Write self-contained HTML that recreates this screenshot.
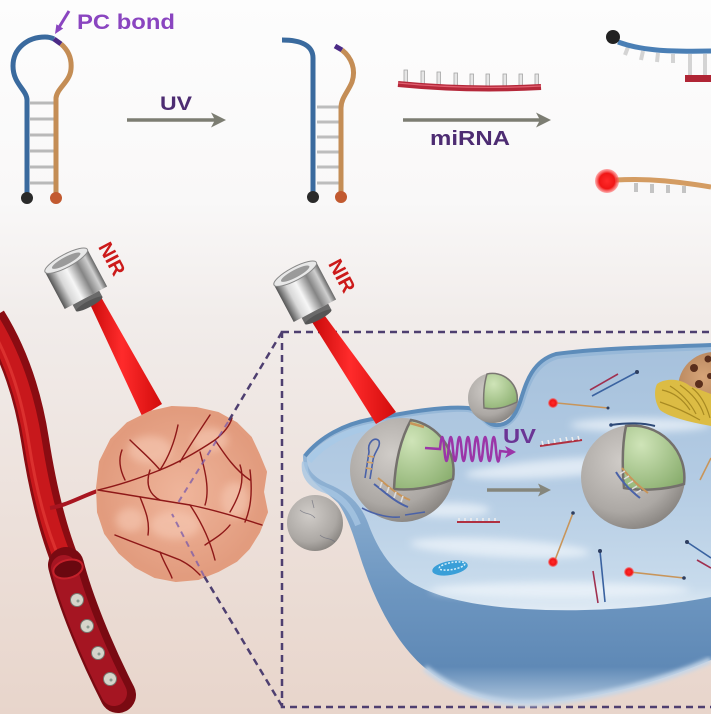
<!DOCTYPE html>
<html><head><meta charset="utf-8"><style>
html,body{margin:0;padding:0;background:#fff;}
svg{display:block;}
text{font-family:"Liberation Sans",Arial,sans-serif;font-weight:bold;}
</style></head><body>
<svg xmlns="http://www.w3.org/2000/svg" width="711" height="714" viewBox="0 0 711 714">
<defs>
<linearGradient id="bg" x1="0" y1="0" x2="0" y2="714" gradientUnits="userSpaceOnUse">
<stop offset="0" stop-color="#fdfdfd"/>
<stop offset="0.28" stop-color="#f9f8f8"/>
<stop offset="0.45" stop-color="#f1ecea"/>
<stop offset="1" stop-color="#e8d5cb"/>
</linearGradient>
<linearGradient id="metal" x1="0" y1="0" x2="1" y2="0">
<stop offset="0" stop-color="#555"/>
<stop offset="0.22" stop-color="#d8d8d8"/>
<stop offset="0.42" stop-color="#f6f6f6"/>
<stop offset="0.68" stop-color="#858585"/>
<stop offset="0.88" stop-color="#cfcfcf"/>
<stop offset="1" stop-color="#666"/>
</linearGradient>
<radialGradient id="sph" cx="0.4" cy="0.35" r="0.75">
<stop offset="0" stop-color="#d0ccc8"/>
<stop offset="0.65" stop-color="#aca8a4"/>
<stop offset="1" stop-color="#7c7874"/>
</radialGradient>
<radialGradient id="grn" cx="0.3" cy="0.3" r="0.9">
<stop offset="0" stop-color="#cfe4b8"/>
<stop offset="1" stop-color="#86ab6a"/>
</radialGradient>
<radialGradient id="tum" cx="0.5" cy="0.5" r="0.55">
<stop offset="0" stop-color="#efb59b"/>
<stop offset="1" stop-color="#e0987a"/>
</radialGradient>
<radialGradient id="rdot">
<stop offset="0" stop-color="#ff2a2a"/>
<stop offset="0.65" stop-color="#f01616"/>
<stop offset="1" stop-color="#ff5a5a" stop-opacity="0.5"/>
</radialGradient>
<radialGradient id="nuc" cx="0.35" cy="0.35" r="0.8">
<stop offset="0" stop-color="#d6a478"/>
<stop offset="1" stop-color="#9a6a44"/>
</radialGradient>
<linearGradient id="wall" x1="0" y1="450" x2="0" y2="705" gradientUnits="userSpaceOnUse">
<stop offset="0" stop-color="#97b8d8"/>
<stop offset="0.55" stop-color="#6d96c0"/>
<stop offset="0.85" stop-color="#5f89b6"/>
<stop offset="1" stop-color="#b4cae0"/>
</linearGradient>
<linearGradient id="top" x1="0" y1="345" x2="0" y2="612" gradientUnits="userSpaceOnUse">
<stop offset="0" stop-color="#a6c1dc"/>
<stop offset="0.5" stop-color="#b3cbe3"/>
<stop offset="0.9" stop-color="#c8dbec"/>
<stop offset="1" stop-color="#e2ecf5"/>
</linearGradient>
<linearGradient id="beam" x1="0" y1="0" x2="1" y2="0">
<stop offset="0" stop-color="#c80a0a"/>
<stop offset="0.45" stop-color="#ff2b2b"/>
<stop offset="1" stop-color="#d20c0c"/>
</linearGradient>
<filter id="b4" x="-20%" y="-50%" width="140%" height="200%"><feGaussianBlur stdDeviation="4"/></filter>
<filter id="b2"><feGaussianBlur stdDeviation="2"/></filter>
<filter id="b1"><feGaussianBlur stdDeviation="1"/></filter>
</defs>

<rect width="711" height="714" fill="url(#bg)"/>

<!-- ============ TOP: hairpin 1 ============ -->
<g stroke="#b9b9b9" stroke-width="3">
<line x1="30" y1="103" x2="54" y2="103"/><line x1="30" y1="119" x2="54" y2="119"/>
<line x1="30" y1="135" x2="54" y2="135"/><line x1="30" y1="151" x2="54" y2="151"/>
<line x1="30" y1="167" x2="54" y2="167"/><line x1="30" y1="183" x2="54" y2="183"/>
</g>
<g fill="none" stroke-width="5">
<path d="M27,196 L27,100 C27,90 13,84 13,66 C13,48 28,37 45,37 C49,37 52,38 54,39" stroke="#3a6a9e"/>
<path d="M54,39 L61,44" stroke="#4b2a86"/>
<path d="M61,44 C68,50 72,58 71,69 C70,82 57,88 56,98 L56,196" stroke="#c48d55"/>
</g>
<circle cx="27" cy="198" r="6" fill="#2a2a2a"/>
<circle cx="56" cy="198" r="6" fill="#c25a30"/>
<path d="M69,11 L58,29" stroke="#8a45c0" stroke-width="3"/>
<polygon points="55,34 56.4,24.3 63.2,28.5" fill="#8a45c0"/>
<text x="77" y="29" font-size="21" fill="#8a45c0" textLength="98" lengthAdjust="spacingAndGlyphs">PC bond</text>

<text x="160" y="110" font-size="19" fill="#4d2c72" textLength="32" lengthAdjust="spacingAndGlyphs">UV</text>
<line x1="127" y1="120" x2="217" y2="120" stroke="#7c7d72" stroke-width="3.5"/>
<polygon points="226,120 211,112.5 215,120 211,127.5" fill="#7c7d72"/>

<!-- hairpin 2 -->
<g stroke="#bdbdbd" stroke-width="3">
<line x1="317" y1="107" x2="339" y2="107"/><line x1="317" y1="122" x2="339" y2="122"/>
<line x1="317" y1="137" x2="339" y2="137"/><line x1="317" y1="152" x2="339" y2="152"/>
<line x1="317" y1="167" x2="339" y2="167"/><line x1="317" y1="183" x2="339" y2="183"/>
</g>
<g fill="none" stroke-width="5">
<path d="M313,196 L313,58 C313,46 302,40 282,40" stroke="#3a6a9e"/>
<path d="M335,46 L342,50" stroke="#4b2a86"/>
<path d="M342,50 C352,58 356,70 352,82 C348,92 341,98 341,108 L341,196" stroke="#c48d55"/>
</g>
<circle cx="313" cy="197" r="6" fill="#2a2a2a"/>
<circle cx="341" cy="197" r="6" fill="#c25a30"/>

<!-- miRNA -->
<g fill="#e6e6e6" stroke="#a5a5a5" stroke-width="0.8">
<rect x="404" y="70" width="3.5" height="13"/><rect x="421" y="71" width="3.5" height="13"/>
<rect x="437" y="72" width="3.5" height="13"/><rect x="454" y="73" width="3.5" height="13"/>
<rect x="470" y="74" width="3.5" height="13"/><rect x="486" y="74" width="3.5" height="13"/>
<rect x="503" y="74" width="3.5" height="12"/><rect x="519" y="74" width="3.5" height="12"/>
<rect x="535" y="74" width="3.5" height="11"/>
</g>
<path d="M398,84 Q470,91 541,87" fill="none" stroke="#b5283a" stroke-width="6"/>
<path d="M398,83 Q470,90 541,86" fill="none" stroke="#e06070" stroke-width="1.2"/>
<line x1="403" y1="120" x2="542" y2="120" stroke="#7c7d72" stroke-width="3.5"/>
<polygon points="551,120 536,112.5 540,120 536,127.5" fill="#7c7d72"/>
<text x="430" y="145" font-size="20" fill="#4d2c72" textLength="80" lengthAdjust="spacingAndGlyphs">miRNA</text>

<!-- top right -->
<g stroke="#d4d4d4" stroke-width="4">
<line x1="628" y1="47" x2="625" y2="55"/><line x1="643" y1="51" x2="641" y2="60"/>
<line x1="658" y1="53" x2="657" y2="62"/><line x1="673" y1="54" x2="673" y2="63"/>
<line x1="690" y1="54" x2="690" y2="75"/><line x1="705" y1="54" x2="705" y2="75"/>
</g>
<path d="M618,42 C640,50 665,52 711,51" fill="none" stroke="#4a7fb5" stroke-width="5"/>
<rect x="685" y="75" width="30" height="7" fill="#b02535"/>
<circle cx="613" cy="37" r="7" fill="#222"/>
<g stroke="#c4c4c4" stroke-width="4">
<line x1="636" y1="183" x2="636" y2="192"/><line x1="652" y1="184" x2="652" y2="193"/>
<line x1="668" y1="185" x2="668" y2="193"/><line x1="684" y1="186" x2="684" y2="193"/>
</g>
<path d="M616,180 C650,178 680,182 711,187" fill="none" stroke="#d49c62" stroke-width="5"/>
<circle cx="607" cy="181" r="12" fill="url(#rdot)"/>

<!-- ============ BOTTOM LEFT ============ -->
<!-- vessel -->
<path d="M-8,318 C15,355 28,395 35,440 C42,485 52,530 68,568" fill="none" stroke="#8a0c12" stroke-width="28"/>
<path d="M-10,320 C13,357 26,397 33,442 C40,487 50,530 66,566" fill="none" stroke="#c8181c" stroke-width="18"/>
<path d="M-12,322 C10,359 22,399 29,444 C36,489 46,528 60,560" fill="none" stroke="#e23a36" stroke-width="3" opacity="0.7"/>
<path d="M50,508 C65,506 80,497 100,490" fill="none" stroke="#a81520" stroke-width="4"/>
<path d="M66,565 C75,600 95,650 118,695" fill="none" stroke="#7a0a12" stroke-width="36" stroke-linecap="round"/>
<path d="M64,568 C73,602 92,650 114,693" fill="none" stroke="#a51522" stroke-width="26" stroke-linecap="round"/>
<ellipse cx="68" cy="569" rx="15" ry="9" transform="rotate(-15 68 569)" fill="#6a0810" stroke="#c4202a" stroke-width="2"/>
<g fill="#d6d4ca" stroke="#76766e" stroke-width="1">
<circle cx="77" cy="600" r="6.5"/><circle cx="87" cy="626" r="6.5"/>
<circle cx="98" cy="653" r="6.5"/><circle cx="110" cy="679" r="6.5"/>
</g>
<g fill="#8a9a90"><circle cx="78" cy="601" r="1.5"/><circle cx="88" cy="627" r="1.5"/><circle cx="99" cy="654" r="1.5"/><circle cx="111" cy="680" r="1.5"/></g>

<!-- lamp 1 beam -->
<polygon points="89,302 101,297 162,404 142,416" fill="url(#beam)"/>
<g transform="translate(77,281) rotate(-28)">
<rect x="-24" y="-23" width="48" height="42" fill="url(#metal)"/>
<ellipse cx="0" cy="-23" rx="24" ry="6.5" fill="#e8e8e8" stroke="#8a8a8a" stroke-width="1"/>
<ellipse cx="0" cy="-23" rx="16" ry="3.8" fill="#9a9a9a"/>
<rect x="-15" y="19" width="30" height="7" fill="#6a6a6a"/>
<ellipse cx="0" cy="26" rx="15" ry="3" fill="#555"/>
</g>
<text transform="translate(106,262) rotate(62)" text-anchor="middle" font-size="20" fill="#cc1a1a">NIR</text>

<!-- tumor -->
<path d="M98,488 L101,462 L112,440 L128,424 L150,413 L172,408 L196,409 L218,414 L236,424 L250,438 L258,455 L265,472 L262,492 L266,512 L258,532 L248,548 L236,560 L218,570 L198,578 L176,580 L155,576 L136,566 L120,552 L106,533 L99,512 Z" fill="url(#tum)" stroke="#e29c7e" stroke-width="4" stroke-linejoin="round"/>
<g fill="#f6c8b2" opacity="0.65" filter="url(#b4)">
<ellipse cx="150" cy="450" rx="22" ry="14"/><ellipse cx="210" cy="440" rx="18" ry="12"/>
<ellipse cx="175" cy="525" rx="25" ry="14"/><ellipse cx="235" cy="500" rx="14" ry="18"/>
<ellipse cx="130" cy="520" rx="14" ry="12"/>
</g>
<g fill="none" stroke="#8e1818" stroke-width="1.4" stroke-linecap="round">
<path d="M98,490 C120,485 140,478 160,470 C180,462 200,450 215,440 C225,432 230,425 232,418"/>
<path d="M160,470 C170,455 175,440 178,425"/>
<path d="M180,462 C190,445 200,430 210,415"/>
<path d="M98,490 C130,495 160,500 190,505 C215,510 240,518 262,525"/>
<path d="M190,505 C200,520 210,540 215,560"/>
<path d="M140,497 C145,510 150,520 148,535"/>
<path d="M215,440 C225,455 235,470 250,480"/>
<path d="M230,512 C240,495 245,480 240,465"/>
<path d="M115,535 C140,545 160,552 180,560 C190,565 195,570 200,575"/>
<path d="M160,552 C165,565 170,572 172,578"/>
<path d="M245,522 C250,510 253,495 250,470"/>
<path d="M130,440 C140,450 150,458 160,470"/>
<path d="M200,452 C205,470 210,490 205,505"/>
<path d="M125,480 C120,470 118,460 122,450"/>
<path d="M205,545 C212,540 222,535 230,525"/>
<path d="M150,470 C145,485 150,495 160,500"/>
</g>
<!-- dashed zoom lines -->
<g fill="none" stroke="#4e3f70" stroke-width="2.5" stroke-dasharray="7 5">
<path d="M282,332 L228,422"/>
<path d="M282,706 L204,576"/>
</g>
<g fill="none" stroke="#7a5aaa" stroke-width="2" stroke-dasharray="6 5" opacity="0.75">
<path d="M228,422 L176,506"/>
<path d="M204,576 L172,514"/>
</g>

<!-- dashed box -->
<rect x="282" y="332" width="450" height="375" fill="none" stroke="#4e3f70" stroke-width="2.5" stroke-dasharray="7 5"/>

<!-- ============ CELL ============ -->
<path d="M303,455 C318,436 343,423 372,418 C405,412 440,405 468,407 C480,408 484,423 495,424 C508,425 515,416 520,401 C526,382 532,360 556,353 C600,347 660,346 711,344 L711,660 C660,682 600,698 540,703 C495,706 455,693 425,668 C398,645 378,608 364,568 C356,545 350,520 338,503 C322,488 302,478 303,455 Z" fill="url(#wall)"/>
<path d="M425,668 C455,693 495,706 540,703 C600,698 660,682 711,660" fill="none" stroke="#c4d6e8" stroke-width="6" filter="url(#b2)"/>
<path d="M307,457 C321,440 345,428 373,423 C405,417 440,411 467,412 C479,413 484,428 495,429 C509,430 518,420 524,404 C530,385 536,366 558,359 C600,354 660,352 711,350 L711,597 C660,607 590,613 525,609 C475,606 437,598 410,582 C390,568 377,548 368,523 C361,505 350,494 333,486 C315,479 306,470 307,457 Z" fill="url(#top)"/>
<g fill="#f2f7fc" opacity="0.7" filter="url(#b4)">
<ellipse cx="560" cy="468" rx="95" ry="9" transform="rotate(-4 560 468)"/>
<ellipse cx="500" cy="548" rx="90" ry="9" transform="rotate(3 500 548)"/>
<ellipse cx="640" cy="425" rx="70" ry="7"/>
<ellipse cx="560" cy="590" rx="130" ry="8"/>
<ellipse cx="450" cy="510" rx="40" ry="7"/>
</g>
<path d="M305,456 C320,437 344,424 372,419 C405,413 440,406 468,408 C480,409 484,424 495,425 C508,426 515,417 520,402 C526,383 532,361 556,354 C600,348 660,347 711,345" fill="none" stroke="#5d8cba" stroke-width="4"/>
<path d="M309,461 C324,443 347,431 374,426" fill="none" stroke="#a9c9e6" stroke-width="6"/>
<path d="M305,462 C303,475 310,485 325,490 C340,496 350,505 358,525" fill="none" stroke="#a6c6e2" stroke-width="6" opacity="0.8"/>

<!-- nucleus & golgi -->
<circle cx="714" cy="388" r="36" fill="url(#nuc)"/>
<g fill="#5a2e1c">
<circle cx="694" cy="368" r="4"/><circle cx="708" cy="359" r="3.5"/><circle cx="699" cy="384" r="4"/>
<circle cx="688" cy="396" r="3"/><circle cx="710" cy="376" r="3"/><circle cx="706" cy="400" r="3.5"/>
</g>
<path d="M657,384 C665,378 680,378 690,386 L711,394 L711,426 C695,423 670,418 660,410 C654,401 654,390 657,384 Z" fill="#dcbc44"/>
<g fill="none" stroke="#a88a22" stroke-width="1.2">
<path d="M662,390 C672,392 682,398 690,410"/><path d="M670,386 C680,392 690,402 696,414"/>
<path d="M680,385 C690,392 700,402 704,415"/><path d="M692,388 C700,394 706,404 710,418"/>
<path d="M660,402 C672,406 686,412 700,420"/>
</g>

<!-- small sphere top -->
<circle cx="493" cy="398" r="25" fill="url(#sph)"/>
<path d="M487,374 A25,25 0 0 1 517,402 C505,408 495,410 484,408 C483,395 484,384 487,374 Z" fill="url(#grn)" stroke="#7a7672" stroke-width="1.5"/>

<!-- sphere A -->
<circle cx="402" cy="470" r="52" fill="url(#sph)"/>
<path d="M411,420 A52,52 0 0 1 453,479 C435,487 412,491 394,489 C395,465 400,440 411,420 Z" fill="url(#grn)" stroke="#74706c" stroke-width="2.5"/>
<g fill="none" stroke-width="1.6">
<path d="M365,478 L369,452 C367,442 375,436 379,441 C381,447 374,452 373,460 L370,479" stroke="#4a62a8"/>
<path d="M366,468 L372,469 M367,462 L373,463 M368,456 L374,457" stroke="#d4a060"/>
<path d="M378,478 C388,486 397,495 410,500" stroke="#c8955a" stroke-width="2"/>
<path d="M374,484 C386,493 395,502 408,507" stroke="#4a62a8" stroke-width="2"/>
<path d="M382,482 L380,488 M389,487 L387,493 M396,492 L394,498 M403,496 L401,502" stroke="#ddd"/>
<path d="M362,508 C375,515 390,518 400,517" stroke="#4a62a8"/>
<path d="M410,423 L424,427" stroke="#c8955a" stroke-width="2.5"/>
<path d="M405,515 L425,512" stroke="#4a62a8"/>
</g>
<!-- beam 2 & lamp 2 -->
<polygon points="312,322 325,316 396,412 376,424" fill="url(#beam)"/>
<g transform="translate(306,294) rotate(-28)">
<rect x="-24" y="-23" width="48" height="42" fill="url(#metal)"/>
<ellipse cx="0" cy="-23" rx="24" ry="6.5" fill="#e8e8e8" stroke="#8a8a8a" stroke-width="1"/>
<ellipse cx="0" cy="-23" rx="16" ry="3.8" fill="#9a9a9a"/>
<rect x="-15" y="19" width="30" height="7" fill="#6a6a6a"/>
<ellipse cx="0" cy="26" rx="15" ry="3" fill="#555"/>
</g>
<text transform="translate(336,279) rotate(62)" text-anchor="middle" font-size="20" fill="#cc1a1a">NIR</text>

<!-- UV wave -->
<path d="M425,448 L440,449 Q442.2,425 444.3,449 Q446.5,473 448.6,449 Q450.8,425 452.9,449 Q455.1,473 457.2,449 Q459.4,425 461.5,449 Q463.7,473 465.8,449 Q468,425 470.1,449 Q472.3,473 474.4,449 Q476.6,425 478.7,449 Q480.9,473 483,449 Q485.2,425 487.3,449 Q489.5,473 491.6,449 Q493.8,425 495.9,449 Q498,473 500.2,451 L508,452" fill="none" stroke="#9b35a8" stroke-width="2.5"/>
<polygon points="516,452 505,446 508,452 505,458" fill="#9b35a8"/>
<text x="503" y="443" font-size="20" fill="#6b3595" textLength="33" lengthAdjust="spacingAndGlyphs">UV</text>

<!-- gray arrow -->
<line x1="487" y1="490" x2="542" y2="490" stroke="#85867c" stroke-width="3.5"/>
<polygon points="551,490 538,483.5 541,490 538,496.5" fill="#85867c"/>

<!-- sphere B -->
<circle cx="633" cy="477" r="52" fill="url(#sph)"/>
<path d="M626,426 A52,52 0 0 1 684,484 C665,490 640,491 624,488 C622,465 622,445 626,426 Z" fill="url(#grn)" stroke="#74706c" stroke-width="2.5"/>
<g fill="none" stroke-width="2">
<path d="M611,425 C625,423 640,422 655,426" stroke="#2e4a78"/>
<circle cx="611" cy="425" r="1.8" fill="#2e4a78"/>
<path d="M616,472 C622,482 632,492 640,498" stroke="#4a62a8"/>
<path d="M622,468 C630,478 640,487 648,493" stroke="#c8955a"/>
<path d="M620,474 L625,471 M624,479 L629,476 M628,484 L633,481 M632,489 L637,486 M636,493 L641,490" stroke="#ddd" stroke-width="1.5"/>
</g>

<!-- left sphere -->
<circle cx="315" cy="523" r="28" fill="url(#sph)"/>
<g fill="none" stroke="#6a6c7a" stroke-width="0.8" opacity="0.7">
<path d="M300,510 C305,515 310,512 315,518"/><path d="M320,535 C325,540 330,537 335,542"/>
<path d="M312,500 L314,508"/>
</g>

<!-- mitochondrion -->
<ellipse cx="450" cy="568" rx="18" ry="7" transform="rotate(-10 450 568)" fill="#3a9fd8"/>
<ellipse cx="452" cy="566" rx="13" ry="3.5" transform="rotate(-10 452 566)" fill="none" stroke="#d8f0fa" stroke-width="1.5" stroke-dasharray="2 1.5"/>

<!-- strands in cytoplasm -->
<g fill="none" stroke-width="1.6">
<path d="M590,390 L618,374" stroke="#a03050"/>
<path d="M592,396 L637,372" stroke="#3a62a0"/>
<path d="M557,403 L608,408" stroke="#c8955a"/>
<path d="M540,446 L582,440" stroke="#b03040" stroke-width="2"/>
<path d="M542,441 L543,445 M548,440 L549,444 M554,439 L555,443 M560,438 L561,442 M566,437 L567,441 M572,437 L573,441 M578,436 L579,440" stroke="#eee" stroke-width="1.5"/>
<path d="M457,522 L500,522" stroke="#b03040" stroke-width="2"/>
<path d="M459,518 L459,521 M465,518 L465,521 M471,518 L471,521 M477,518 L477,521 M483,518 L483,521 M489,518 L489,521 M495,518 L495,521" stroke="#eee" stroke-width="1.5"/>
<path d="M555,560 L573,513" stroke="#c8955a"/>
<path d="M600,551 L605,602" stroke="#3a62a0"/>
<path d="M593,571 L598,603" stroke="#a03050"/>
<path d="M630,572 L684,578" stroke="#c8955a"/>
<path d="M687,542 L711,558" stroke="#3a62a0"/>
<path d="M697,560 L711,568" stroke="#a03050"/>
<path d="M700,480 L711,458" stroke="#c8955a"/>
</g>
<g fill="#2e3e60"><circle cx="637" cy="372" r="2"/><circle cx="573" cy="513" r="1.8"/><circle cx="600" cy="551" r="2"/><circle cx="684" cy="578" r="1.8"/><circle cx="687" cy="542" r="2"/><circle cx="608" cy="408" r="1.5"/></g>
<circle cx="553" cy="403" r="5" fill="url(#rdot)"/>
<circle cx="553" cy="562" r="5" fill="url(#rdot)"/>
<circle cx="629" cy="572" r="5" fill="url(#rdot)"/>
</svg>
</body></html>
